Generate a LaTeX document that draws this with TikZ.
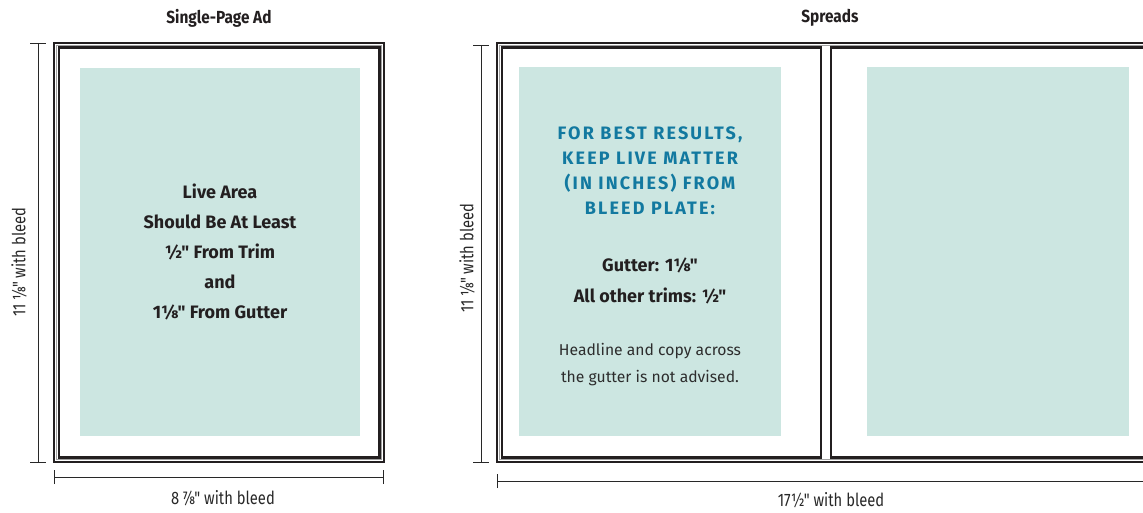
\documentclass[tikz,border=0pt]{standalone}
\usepackage{fontspec}
\setmainfont{Fira Sans}[Ligatures=TeXOff]
\newfontfamily\condfont{Fira Sans}[FakeStretch=0.82,Ligatures=TeXOff]
\newfontfamily\titlefont{Fira Sans}[FakeStretch=0.88,Ligatures=TeXOff]
\newfontfamily\headfont{Fira Sans}[LetterSpace=12,Ligatures=TeXOff]
\definecolor{live}{RGB}{204,230,225}
\definecolor{frameink}{RGB}{35,31,32}
\definecolor{framegray}{RGB}{160,160,160}
\definecolor{headblue}{RGB}{18,121,160}
\definecolor{dimink}{RGB}{40,40,40}
\definecolor{bodyink}{RGB}{45,45,45}
\begin{document}
\begin{tikzpicture}[x=1pt,y=-1pt,
  outerframe/.style={draw=frameink,line width=2.2pt},
  midline/.style={draw=framegray,line width=0.8pt},
  liverect/.style={fill=live,draw=none},
  dimline/.style={draw=dimink,line width=0.9pt},
  dimlabel/.style={font=\condfont\fontsize{18}{20}\selectfont,text=dimink,inner sep=0pt},
  titlelabel/.style={font=\titlefont\bfseries\fontsize{17.5}{19}\selectfont,text=frameink,inner sep=0pt},
  livetext/.style={font=\bfseries\fontsize{18}{30}\selectfont,text=frameink,align=center,inner sep=0pt},
  headtext/.style={font=\headfont\bfseries\fontsize{18}{25}\selectfont,text=headblue,align=center,inner sep=0pt},
  plaintext/.style={font=\fontsize{15.7}{27}\selectfont,text=bodyink,align=center,inner sep=0pt}
]
\useasboundingbox (0,0) rectangle (1143,513);
\clip (0,0) rectangle (1143,513);

% ---------- Single-page ad ----------
\node[titlelabel] (t1) at (219,18) {Single-Page Ad};
\fill[liverect] (80,68) rectangle (360,436);
\node[livetext] (lt) at (220,252) {Live Area\\Should Be At Least\\½" From Trim\\and\\1⅛" From Gutter};
\draw[midline] (56.3,45.3) rectangle (381.7,459.7);
\draw[outerframe] (54,43) rectangle (384,462);
\draw[outerframe] (58.6,47.6) rectangle (379.4,457.4);

% vertical dimension
\coordinate (v1a) at (38,43);
\coordinate (v1b) at (38,462);
\draw[dimline] (v1a) -- (v1b);
\draw[dimline] ([xshift=-8pt]v1a) -- ([xshift=8pt]v1a);
\draw[dimline] ([xshift=-8pt]v1b) -- ([xshift=8pt]v1b);
\node[dimlabel,rotate=90] (d1) at (19,262) {11\,⅛" with bleed};

% horizontal dimension
\coordinate (h1a) at (54,477);
\coordinate (h1b) at (383,477);
\draw[dimline] (h1a) -- (h1b);
\draw[dimline] ([yshift=-7pt]h1a) -- ([yshift=7pt]h1a);
\draw[dimline] ([yshift=-7pt]h1b) -- ([yshift=7pt]h1b);
\node[dimlabel] (d2) at (223,498) {8\,⅞" with bleed};

% ---------- Spreads ----------
\node[titlelabel] (t2) at (830,18) {Spreads};
\fill[liverect] (519,67) rectangle (781,436);
\fill[liverect] (867,67) rectangle (1129,436);
\draw[midline] (499.3,45.3) rectangle (1170,459.7);
\draw[outerframe] (497,43) rectangle (1170,462);
\draw[outerframe] (501.6,47.6) rectangle (821,457.4);
\draw[outerframe] (831,47.6) rectangle (1170,457.4);

\node[headtext] (ht) at (650,171) {FOR BEST RESULTS,\\KEEP LIVE MATTER\\(IN INCHES) FROM\\BLEED PLATE:};
\node[livetext,font=\bfseries\fontsize{18}{31}\selectfont] (gt) at (650,280.5) {Gutter: 1⅛"\\All other trims: ½"};
\node[plaintext] (pt) at (650,364.5) {Headline and copy across\\the gutter is not advised.};

% vertical dimension
\coordinate (v2a) at (481,45);
\coordinate (v2b) at (481,462);
\draw[dimline] (v2a) -- (v2b);
\draw[dimline] ([xshift=-8pt]v2a) -- ([xshift=8pt]v2a);
\draw[dimline] ([xshift=-8pt]v2b) -- ([xshift=8pt]v2b);
\node[dimlabel] (d3) at (467,258) [rotate=90] {11\,⅛" with bleed};

% horizontal dimension
\coordinate (h2a) at (497,481);
\coordinate (h2b) at (1170,481);
\draw[dimline] (h2a) -- (h2b);
\draw[dimline] ([yshift=-7pt]h2a) -- ([yshift=7pt]h2a);
\node[dimlabel] (d4) at (831,500) {17½" with bleed};
\end{tikzpicture}
\end{document}
